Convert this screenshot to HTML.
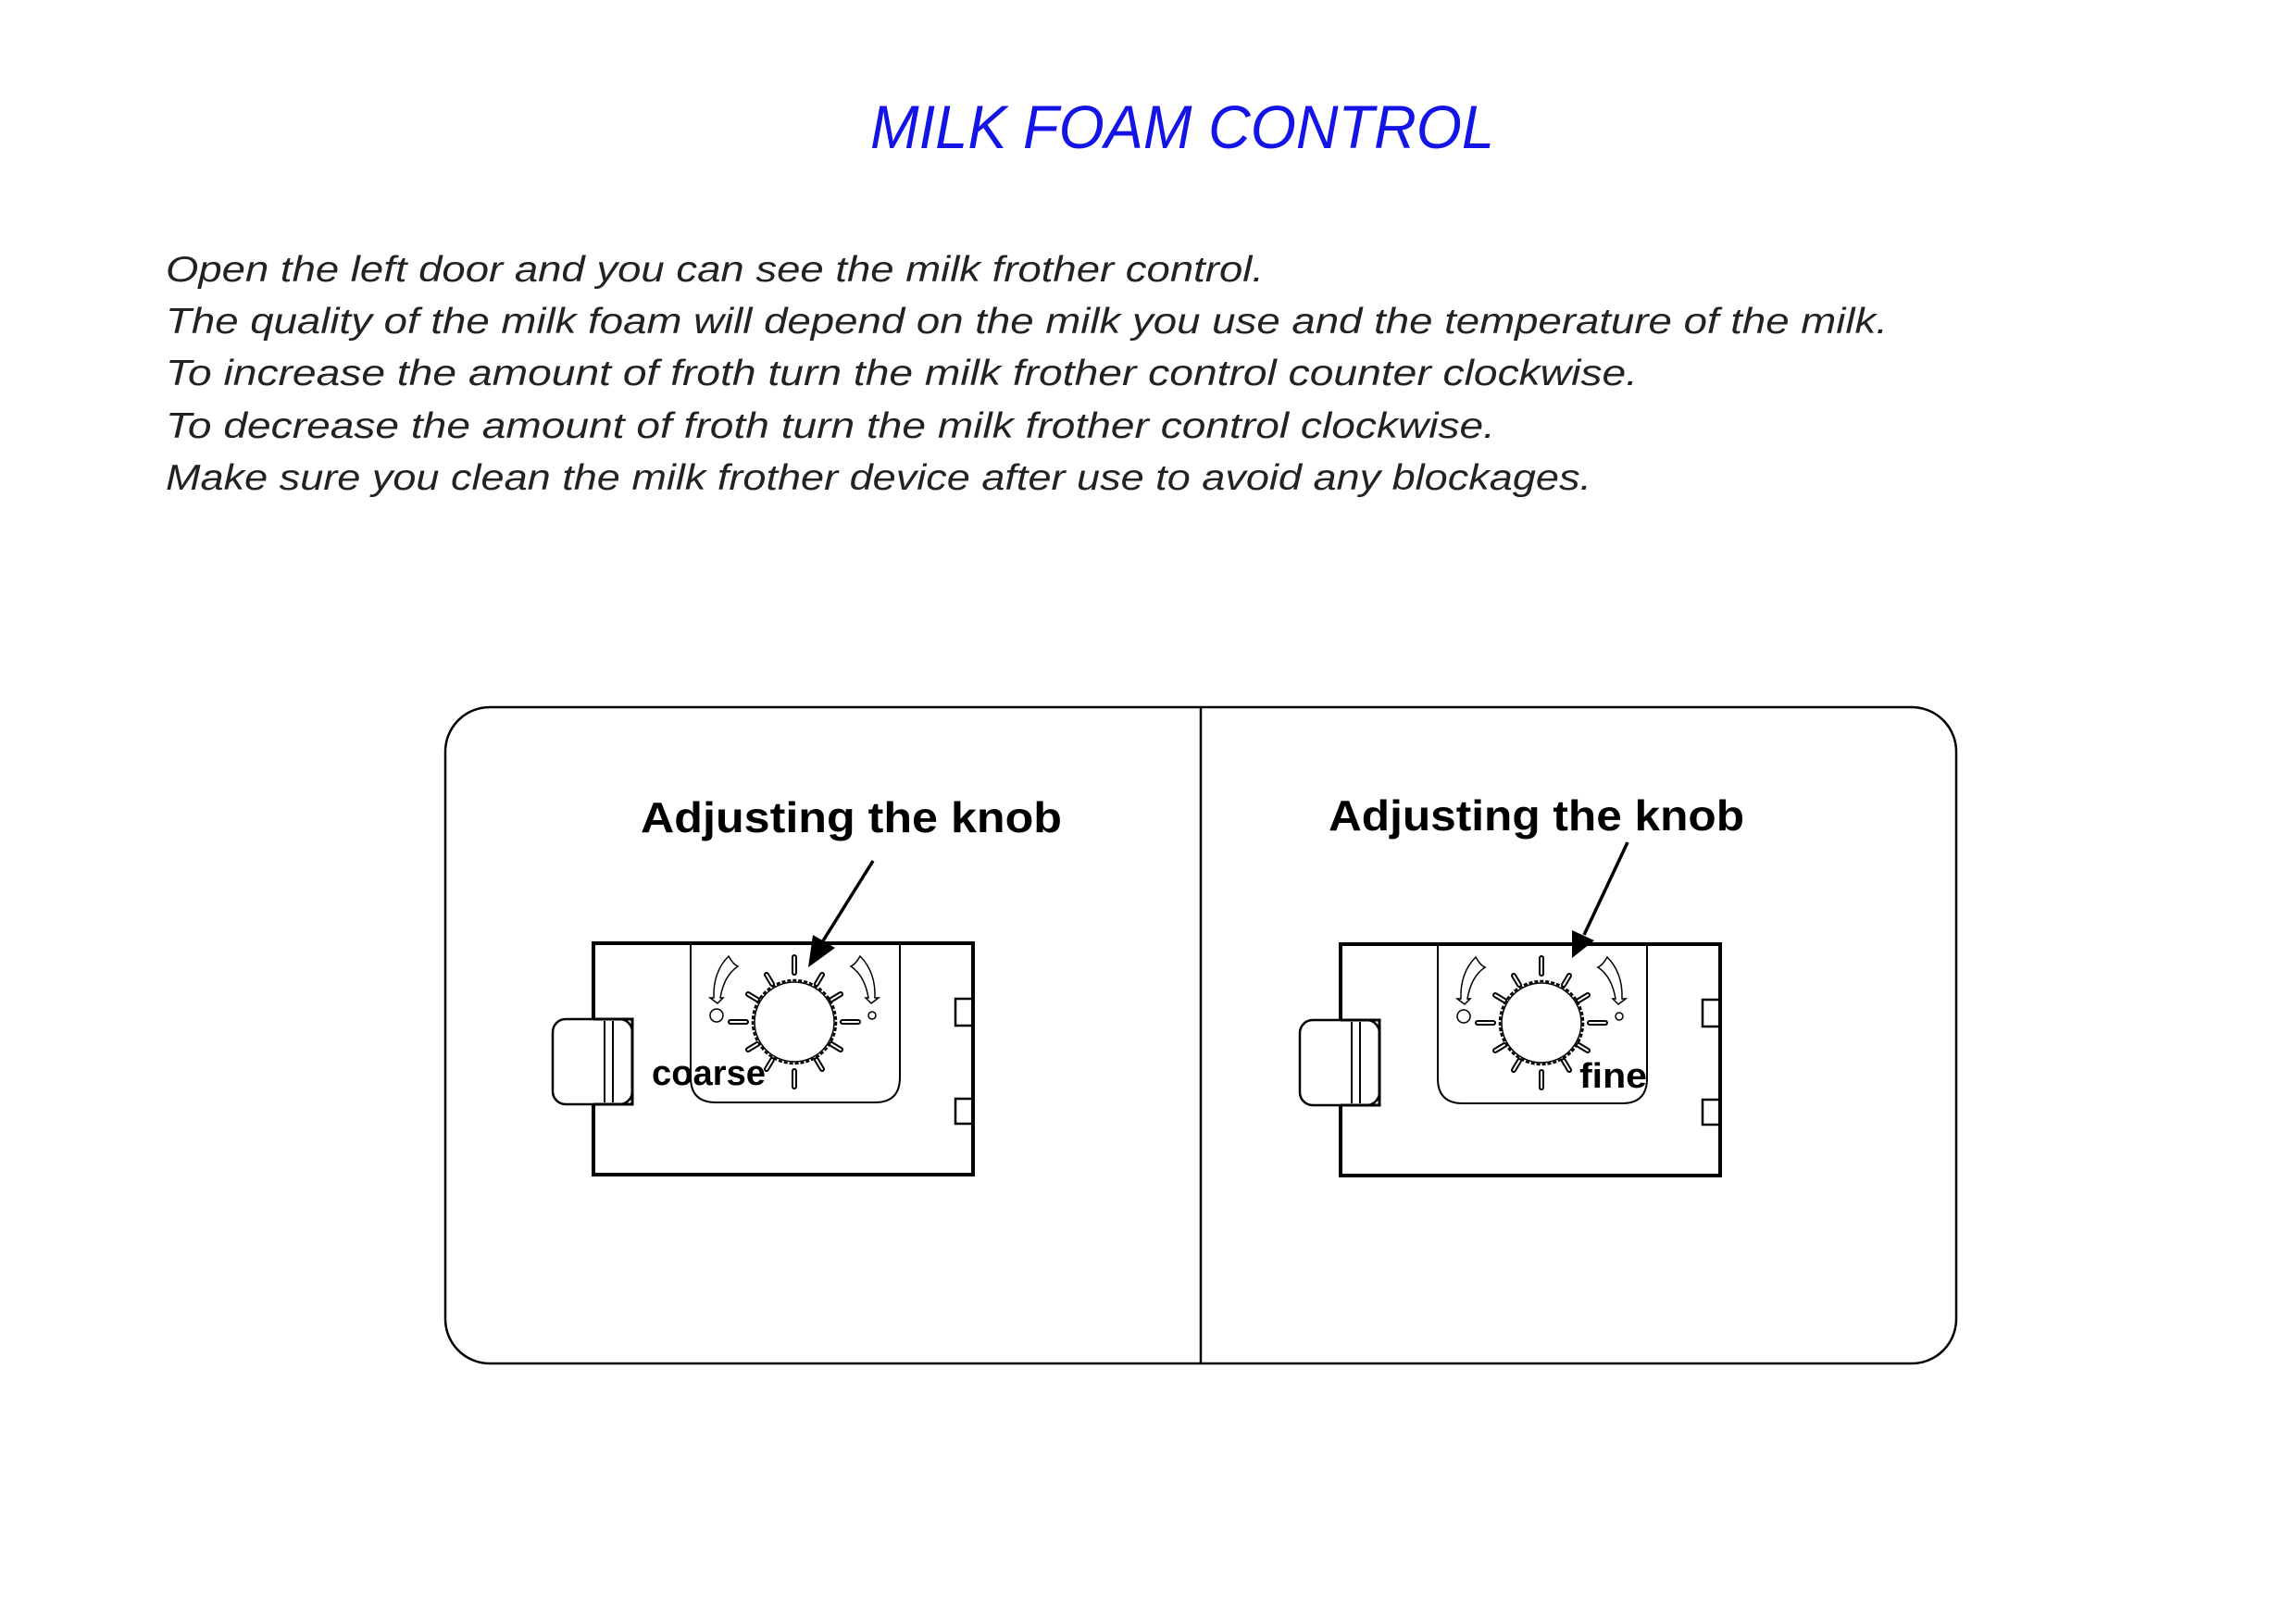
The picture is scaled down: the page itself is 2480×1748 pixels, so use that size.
<!DOCTYPE html>
<html><head><meta charset="utf-8"><style>
html,body{margin:0;padding:0;background:#fff;}
svg{display:block;}
</style></head><body>
<svg width="2480" height="1748" viewBox="0 0 2480 1748" xmlns="http://www.w3.org/2000/svg">
<defs>
<g id="dev">
  <!-- main body -->
  <path d="M641 1019 H1051 V1269 H641 Z" fill="none" stroke="#000" stroke-width="4"/>
  <!-- inner panel -->
  <path d="M746 1019 V1164 Q746 1191 773 1191 H945 Q972 1191 972 1164 V1019" fill="none" stroke="#000" stroke-width="2"/>
  <!-- handle -->
  <rect x="597" y="1101" width="86" height="92" rx="14" fill="#fff" stroke="#000" stroke-width="2.5"/>
  <path d="M641 1101 H683 V1193 H641" fill="none" stroke="#000" stroke-width="3"/>
  <line x1="653" y1="1103" x2="653" y2="1191" stroke="#000" stroke-width="2"/>
  <line x1="662" y1="1103" x2="662" y2="1191" stroke="#000" stroke-width="2"/>
  <!-- notches -->
  <rect x="1032" y="1079" width="19" height="29" fill="none" stroke="#000" stroke-width="2.5"/>
  <rect x="1032" y="1187" width="19" height="27" fill="none" stroke="#000" stroke-width="2.5"/>
  <!-- knob -->
  <circle cx="858" cy="1104" r="45" fill="#fff" stroke="#000" stroke-width="2.5" stroke-dasharray="4 2"/>
  <circle cx="858" cy="1104" r="43" fill="none" stroke="#000" stroke-width="1.5"/>
  <!-- ticks -->
  <g stroke="#000" stroke-width="6" stroke-linecap="round">
    <line x1="858" y1="1034" x2="858" y2="1051"/>
    <line x1="858" y1="1157" x2="858" y2="1174"/>
    <line x1="789" y1="1104" x2="806" y2="1104"/>
    <line x1="910" y1="1104" x2="927" y2="1104"/>
    <line x1="828" y1="1053" x2="834" y2="1063"/>
    <line x1="888" y1="1053" x2="882" y2="1063"/>
    <line x1="808" y1="1074" x2="818" y2="1080"/>
    <line x1="908" y1="1074" x2="898" y2="1080"/>
    <line x1="808" y1="1134" x2="818" y2="1128"/>
    <line x1="908" y1="1134" x2="898" y2="1128"/>
    <line x1="828" y1="1155" x2="834" y2="1145"/>
    <line x1="888" y1="1155" x2="882" y2="1145"/>
  </g>
  <g stroke="#fff" stroke-width="2" stroke-linecap="round">
    <line x1="858" y1="1034" x2="858" y2="1051"/>
    <line x1="858" y1="1157" x2="858" y2="1174"/>
    <line x1="789" y1="1104" x2="806" y2="1104"/>
    <line x1="910" y1="1104" x2="927" y2="1104"/>
    <line x1="828" y1="1053" x2="834" y2="1063"/>
    <line x1="888" y1="1053" x2="882" y2="1063"/>
    <line x1="808" y1="1074" x2="818" y2="1080"/>
    <line x1="908" y1="1074" x2="898" y2="1080"/>
    <line x1="808" y1="1134" x2="818" y2="1128"/>
    <line x1="908" y1="1134" x2="898" y2="1128"/>
    <line x1="828" y1="1155" x2="834" y2="1145"/>
    <line x1="888" y1="1155" x2="882" y2="1145"/>
  </g>
  <!-- curved arrows -->
  <path d="M787 1033 Q792 1042 797 1044 Q782 1054 778 1078 L781 1078 L775 1084 L767 1078 L771 1078 Q770 1050 787 1033 Z" fill="#fff" stroke="#000" stroke-width="1.5"/>
  <path d="M929 1033 Q924 1042 919 1044 Q934 1054 938 1078 L935 1078 L941 1084 L949 1078 L945 1078 Q946 1050 929 1033 Z" fill="#fff" stroke="#000" stroke-width="1.5"/>
  <circle cx="774" cy="1097" r="7" fill="none" stroke="#000" stroke-width="1.5"/>
  <circle cx="942" cy="1097" r="4" fill="none" stroke="#000" stroke-width="1.5"/>
</g>
</defs>

<text x="1277" y="160" text-anchor="middle" font-family="Liberation Sans, sans-serif" font-style="italic" font-size="66" fill="#1414e6" textLength="674" lengthAdjust="spacingAndGlyphs">MILK  FOAM  CONTROL</text>

<g font-family="Liberation Sans, sans-serif" font-style="italic" font-size="39" fill="#222">
<text x="179" y="304" textLength="1186" lengthAdjust="spacingAndGlyphs">Open the left door and you can see the milk frother control.</text>
<text x="179" y="360" textLength="1860" lengthAdjust="spacingAndGlyphs">The quality of the milk foam will depend on the milk you use and the temperature of the milk.</text>
<text x="179" y="416" textLength="1590" lengthAdjust="spacingAndGlyphs">To increase the amount of froth turn the milk frother control counter clockwise.</text>
<text x="179" y="473" textLength="1436" lengthAdjust="spacingAndGlyphs">To decrease the amount of froth turn the milk frother control clockwise.</text>
<text x="179" y="529" textLength="1540" lengthAdjust="spacingAndGlyphs">Make sure you clean the milk frother device after use to avoid any blockages.</text>
</g>

<rect x="481" y="764" width="1632" height="709" rx="48" fill="none" stroke="#000" stroke-width="2.5"/>
<line x1="1297" y1="764" x2="1297" y2="1473" stroke="#000" stroke-width="2.5"/>

<g font-family="Liberation Sans, sans-serif" font-weight="bold" font-size="46" fill="#000">
<text x="692" y="899" textLength="455" lengthAdjust="spacingAndGlyphs">Adjusting the knob</text>
<text x="1435" y="897" textLength="449" lengthAdjust="spacingAndGlyphs">Adjusting the knob</text>
</g>

<use href="#dev"/>
<use href="#dev" transform="translate(807 1)"/>

<g font-family="Liberation Sans, sans-serif" font-weight="bold" font-size="38" fill="#000">
<text x="704" y="1172" textLength="123" lengthAdjust="spacingAndGlyphs">coarse</text>
<text x="1706" y="1175" textLength="73" lengthAdjust="spacingAndGlyphs">fine</text>
</g>

<!-- pointer arrows -->
<line x1="943" y1="930" x2="888" y2="1018" stroke="#000" stroke-width="3.5"/>
<polygon points="873,1045 878,1010 902,1024" fill="#000"/>
<line x1="1758" y1="910" x2="1711" y2="1010" stroke="#000" stroke-width="3.5"/>
<polygon points="1698,1035 1698,1005 1722,1016" fill="#000"/>
</svg>
</body></html>
